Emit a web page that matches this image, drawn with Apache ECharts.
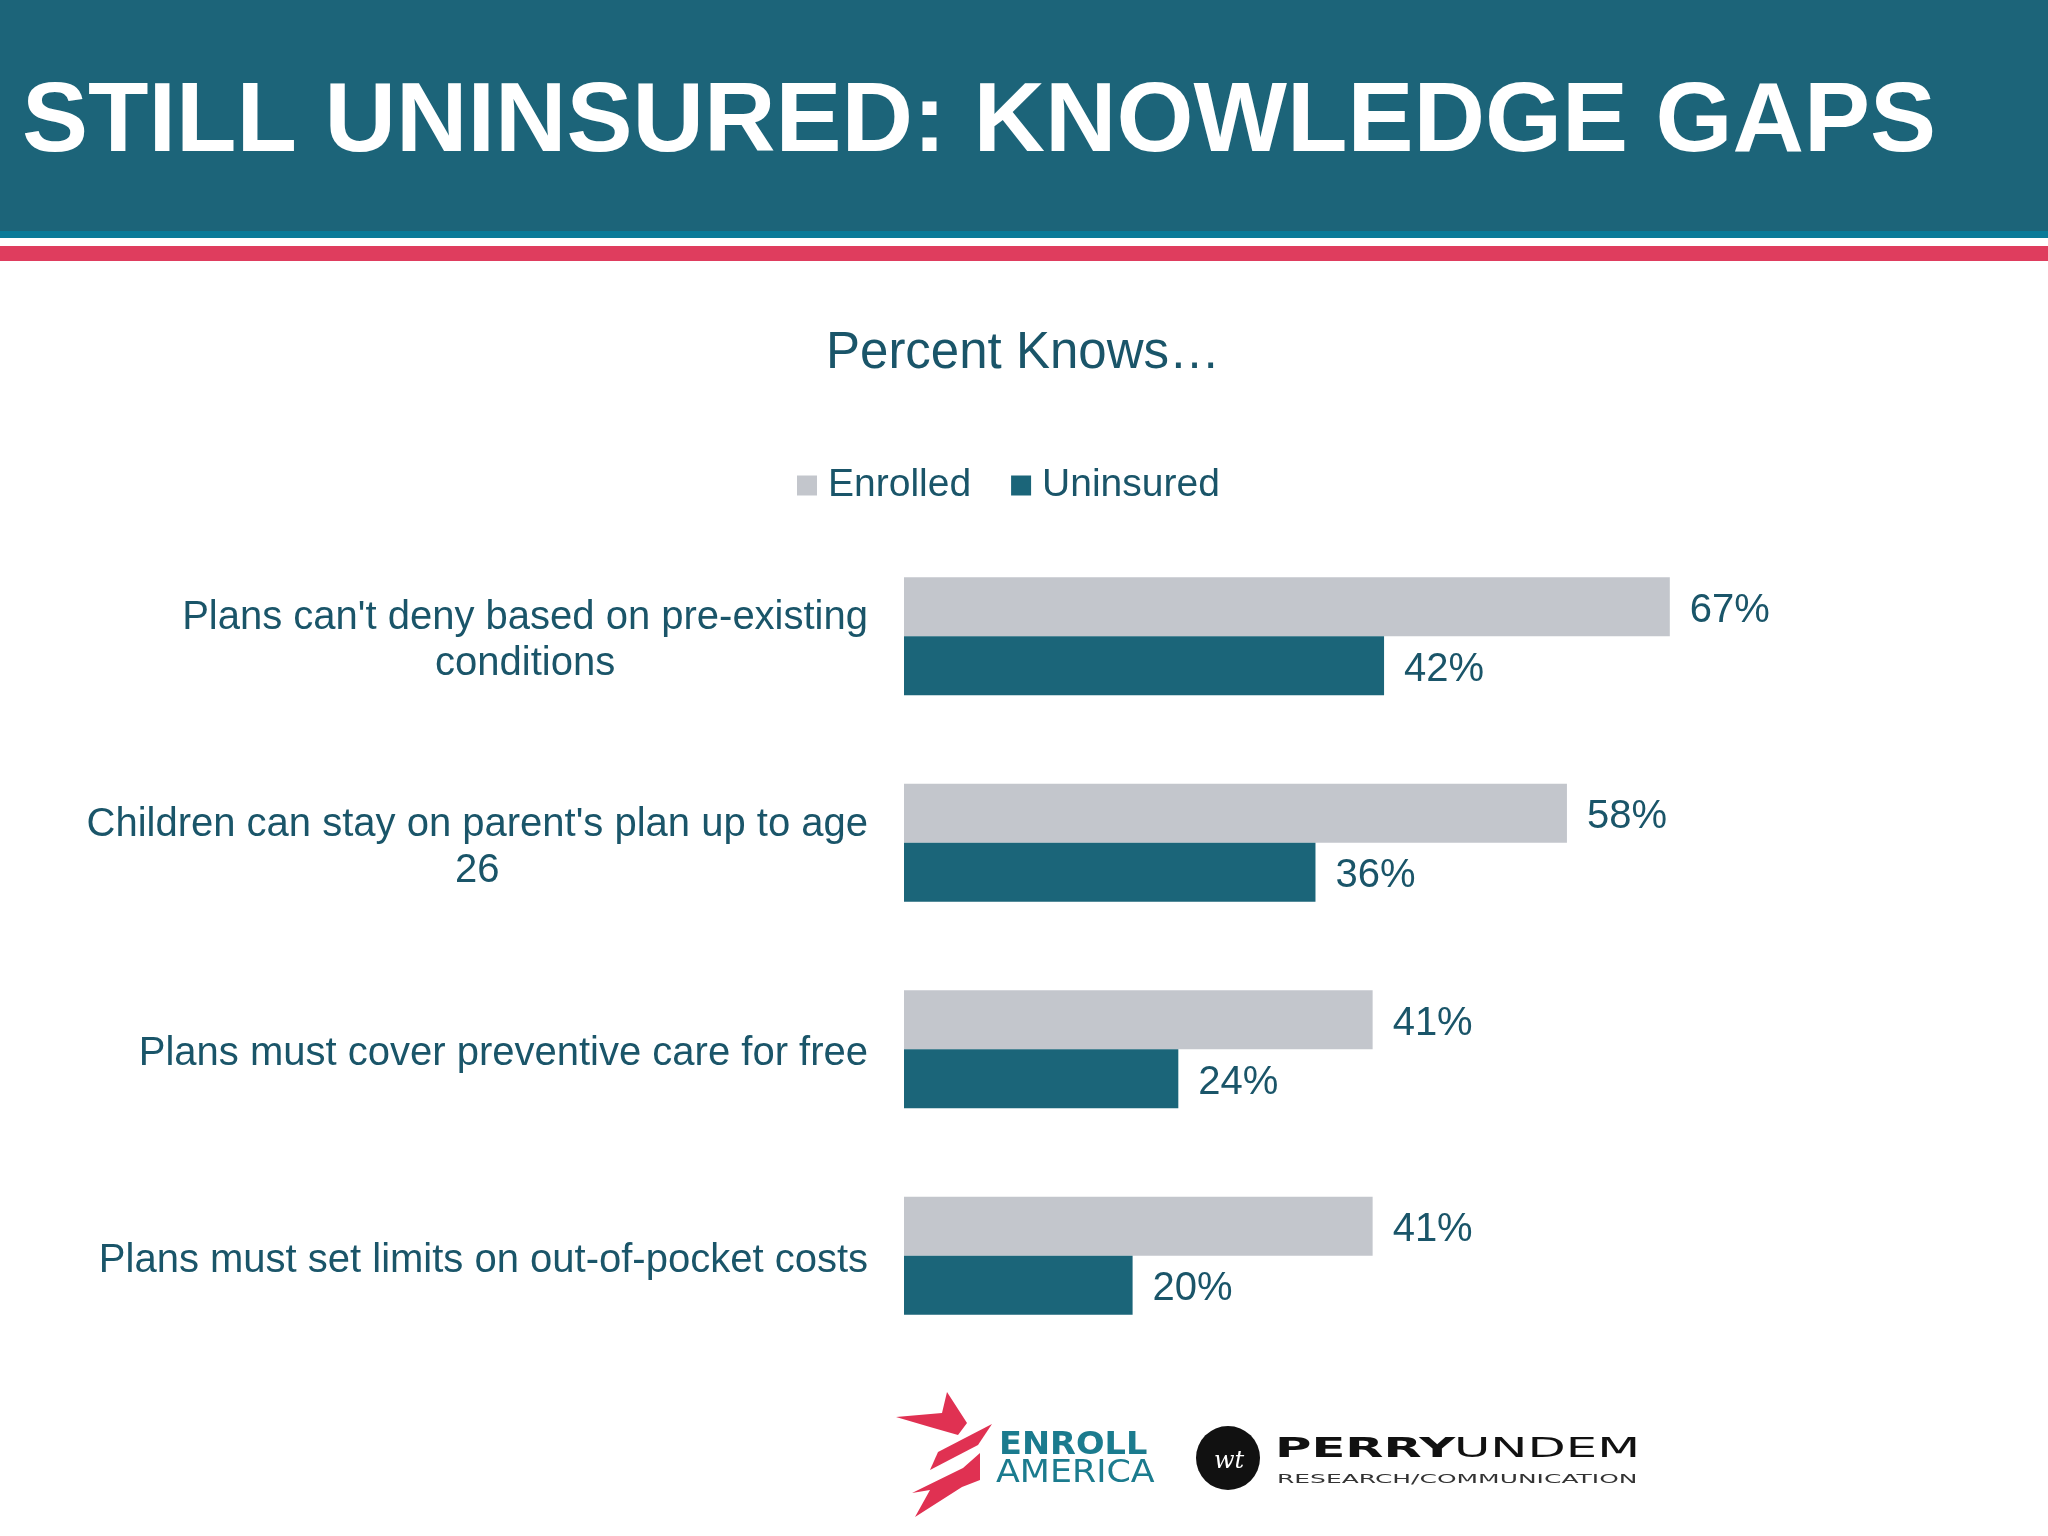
<!DOCTYPE html>
<html>
<head>
<meta charset="utf-8">
<script src="https://cdn.jsdelivr.net/npm/echarts@6/dist/echarts.min.js"></script>
<style>html,body{margin:0;padding:0;background:#fff}#c{width:2048px;height:1536px}</style>
</head>
<body>
<div id="c"></div>
<script>
const titleText = 'STILL UNINSURED: KNOWLEDGE GAPS';
const subtitleText = 'Percent Knows…';
const seriesNames = ['Enrolled', 'Uninsured'];
const categories = [
  "Plans can't deny based on pre-existing\nconditions",
  "Children can stay on parent's plan up to age\n26",
  "Plans must cover preventive care for free",
  "Plans must set limits on out-of-pocket costs"
];
const enrolled = [67, 58, 41, 41];
const uninsured = [42, 36, 24, 20];

const TXT = '#1a5569';
const FONT = "'Liberation Sans', Arial, sans-serif";

function txt(o) {
  const s = Object.assign({ fontFamily: FONT }, o.style);
  if (s.align) s.textAlign = s.align;
  if (s.verticalAlign) s.textVerticalAlign = s.verticalAlign;
  return Object.assign({ type: 'text' }, o, { style: s });
}

const chart = echarts.init(document.getElementById('c'), null, { renderer: 'canvas' });
const option = {
  backgroundColor: '#ffffff',
  animation: false,
  textStyle: { fontFamily: FONT },
  legend: {
    data: seriesNames,
    left: 792,
    top: 461,
    icon: 'rect',
    itemWidth: 20,
    itemHeight: 20,
    itemGap: 40,
    textStyle: { fontSize: 39, color: TXT, fontFamily: FONT, padding: [0, 0, 0, 6] }
  },
  grid: { left: 904, right: 1, top: 533, height: 826, containLabel: false },
  xAxis: { type: 'value', min: 0, max: 100, show: false },
  yAxis: {
    type: 'category',
    data: categories,
    inverse: true,
    axisLine: { show: false },
    axisTick: { show: false },
    splitLine: { show: false },
    axisLabel: {
      margin: 36,
      align: 'right',
      fontSize: 40,
      lineHeight: 46,
      color: TXT,
      padding: [10, 0, 0, 0],
      formatter: function (v) {
        return v.split('\n').map(l => '{c|' + l + '}').join('\n');
      },
      rich: { c: { align: 'center', fontSize: 40, lineHeight: 46, color: TXT, fontFamily: FONT } }
    }
  },
  series: [
    {
      name: seriesNames[0], type: 'bar', data: enrolled, barWidth: 59, barGap: '0%',
      itemStyle: { color: '#c3c6cc' },
      label: { show: true, position: 'right', distance: 20, offset: [0, 4], formatter: '{c}%', fontSize: 40, color: TXT, fontFamily: FONT }
    },
    {
      name: seriesNames[1], type: 'bar', data: uninsured, barWidth: 59, barGap: '0%',
      itemStyle: { color: '#1b6579' },
      label: { show: true, position: 'right', distance: 20, offset: [0, 4], formatter: '{c}%', fontSize: 40, color: TXT, fontFamily: FONT }
    }
  ],
  graphic: [
    { type: 'rect', shape: { x: 0, y: 0, width: 2048, height: 231 }, style: { fill: '#1c6479' }, silent: true },
    { type: 'rect', shape: { x: 0, y: 231, width: 2048, height: 7 }, style: { fill: '#0a7a98' }, silent: true },
    { type: 'rect', shape: { x: 0, y: 246, width: 2048, height: 15 }, style: { fill: '#df3d5e' }, silent: true },
    txt({ x: 22, y: 124, style: { text: titleText, fontSize: 99, fontWeight: 'bold', fill: '#ffffff', align: 'left', verticalAlign: 'middle' } }),
    txt({ x: 1023, y: 354, style: { text: subtitleText, fontSize: 51, fill: TXT, align: 'center', verticalAlign: 'middle' } }),
    // Enroll America logo
    { type: 'polygon', shape: { points: [[896,1417],[942,1413],[947,1392],[967,1423],[958,1435],[930,1427]] }, style: { fill: '#e03152' } },
    { type: 'polygon', shape: { points: [[992,1424],[978,1445],[930,1470],[938,1452]] }, style: { fill: '#e03152' } },
    { type: 'polygon', shape: { points: [[980,1453],[980,1480],[962,1487],[915,1517],[930,1490],[912,1493],[963,1468]] }, style: { fill: '#e03152' } },
    txt({ x: 999, y: 1446, scaleX: 1.05, style: { text: 'ENROLL', fontSize: 32, fontWeight: 'bold', fontFamily: "'DejaVu Sans', sans-serif", fill: '#1b7b8e', align: 'left', verticalAlign: 'middle' } }),
    txt({ x: 996, y: 1474, scaleX: 1.09, style: { text: 'AMERICA', fontSize: 32, fontFamily: "'DejaVu Sans', sans-serif", fill: '#1b7b8e', align: 'left', verticalAlign: 'middle' } }),
    // PerryUndem logo
    { type: 'circle', shape: { cx: 1228, cy: 1458, r: 32 }, style: { fill: '#111111' } },
    txt({ x: 1229, y: 1462, style: { text: 'wt', fontSize: 24, fontStyle: 'italic', fontFamily: "'DejaVu Serif', serif", fill: '#ffffff', align: 'center', verticalAlign: 'middle' } }),
    txt({ x: 1275, y: 1450, scaleX: 1.84, style: { text: 'PERRY', fontSize: 27, fontWeight: 'bold', fontFamily: "'DejaVu Sans', sans-serif", fill: '#111111', align: 'left', verticalAlign: 'middle' } }),
    txt({ x: 1454, y: 1450, scaleX: 1.84, style: { text: 'UNDEM', fontSize: 27, fontWeight: 'normal', fontFamily: "'DejaVu Sans', sans-serif", fill: '#111111', align: 'left', verticalAlign: 'middle' } }),
    txt({ x: 1277, y: 1480, scaleX: 2.08, style: { text: 'RESEARCH/COMMUNICATION', fontSize: 12, fontFamily: "'DejaVu Sans', sans-serif", fill: '#333333', align: 'left', verticalAlign: 'middle' } })
  ]
};
chart.setOption(option);
</script>
</body>
</html>
